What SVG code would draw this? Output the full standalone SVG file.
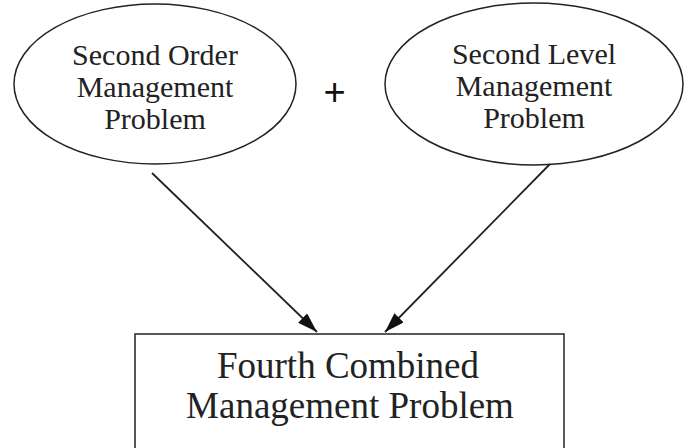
<svg xmlns="http://www.w3.org/2000/svg" width="690" height="448" viewBox="0 0 690 448">
<style>
.shape{fill:none;stroke:#222;stroke-width:1.5}
.lbl{font-family:"Liberation Serif","Times New Roman",serif;fill:#222;text-anchor:middle}
.small{font-size:30px}
.big{font-size:37px}
.conn{stroke:#222;stroke-width:1.8;fill:none}
</style>
<defs>
<marker id="arr" viewBox="0 0 10 10" refX="10" refY="5" markerWidth="20" markerHeight="13" markerUnits="userSpaceOnUse" orient="auto" preserveAspectRatio="none">
<path d="M0,0 L10,5 L0,10 z" fill="#111"/>
</marker>
</defs>
<rect width="690" height="448" fill="#fff"/>
<g id="node-second-order">
<ellipse class="shape" cx="155" cy="84" rx="141" ry="80"/>
<text class="lbl small" x="155" y="65">Second Order</text>
<text class="lbl small" x="155" y="97">Management</text>
<text class="lbl small" x="155" y="129">Problem</text>
</g>
<g id="node-second-level">
<ellipse class="shape" cx="534" cy="84" rx="149" ry="81"/>
<text class="lbl small" x="534" y="64">Second Level</text>
<text class="lbl small" x="534" y="96">Management</text>
<text class="lbl small" x="534" y="128">Problem</text>
</g>
<g id="plus">
<text x="334.5" y="104.5" font-family="Liberation Sans, Arial, sans-serif" font-size="38" fill="#111" text-anchor="middle">+</text>
</g>
<g id="node-fourth">
<rect class="shape" x="135" y="334" width="429" height="130"/>
<text class="lbl big" x="348" y="378">Fourth Combined</text>
<text class="lbl big" x="350" y="418">Management Problem</text>
</g>
<g id="connectors">
<line class="conn" x1="152" y1="173" x2="317" y2="332" marker-end="url(#arr)"/>
<line class="conn" x1="550" y1="164" x2="385" y2="332" marker-end="url(#arr)"/>
</g>
</svg>
